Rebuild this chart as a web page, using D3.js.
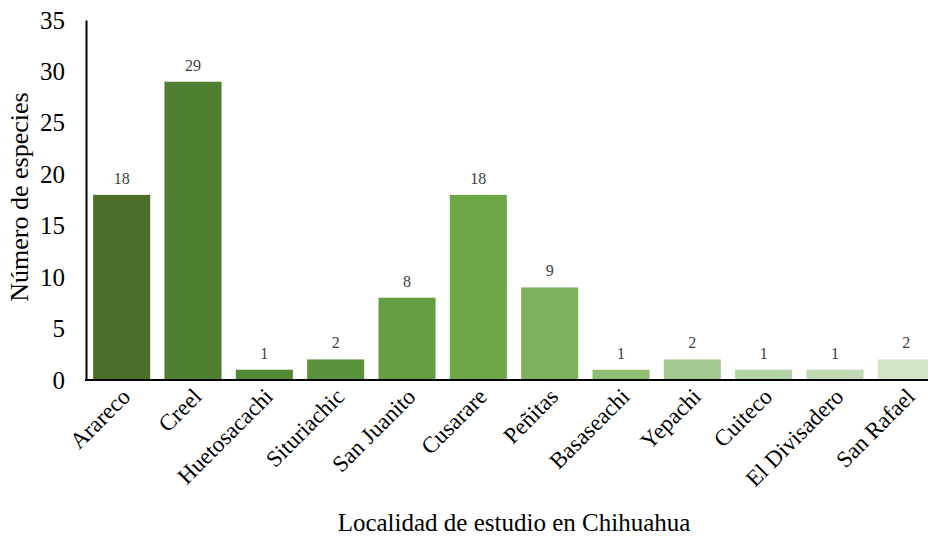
<!DOCTYPE html>
<html>
<head>
<meta charset="utf-8">
<script src="https://cdn.jsdelivr.net/npm/d3@7"></script>
<style>
  body { margin: 0; background: #fff; }
  svg text { font-family: "Liberation Serif", "DejaVu Serif", serif; }
</style>
</head>
<body>
<svg id="chart" width="928" height="538"></svg>
<script>
var localidades = ['Arareco', 'Creel', 'Huetosacachi', 'Situriachic', 'San Juanito', 'Cusarare',
  'Peñitas', 'Basaseachi', 'Yepachi', 'Cuiteco', 'El Divisadero', 'San Rafael'];
var especies = [18, 29, 1, 2, 8, 18, 9, 1, 2, 1, 1, 2];
var colores = ['#4b6f29', '#4f7f31', '#538935', '#59933b', '#639f42', '#6ca946',
  '#7db35c', '#8fbe74', '#a4c993', '#b4d1a6', '#c2d9b6', '#d2e3c6'];
var yTicks = [0, 5, 10, 15, 20, 25, 30, 35];

var serif = '"Liberation Serif", "DejaVu Serif", serif';
var svg = d3.select('#chart');
var mLeft = 86, mRight = 942, mTop = 20, mBottom = 380;

var x = d3.scaleBand()
  .domain(localidades)
  .range([mLeft, mRight])
  .paddingInner(0.2)
  .paddingOuter(0.1);

var y = d3.scaleLinear()
  .domain([0, 35])
  .range([mBottom, mTop]);

var data = localidades.map(function (d, i) { return { name: d, value: especies[i], color: colores[i] }; });

svg.selectAll('rect.bar')
  .data(data)
  .enter().append('rect')
  .attr('class', 'bar')
  .attr('x', function (d) { return x(d.name); })
  .attr('width', x.bandwidth())
  .attr('y', function (d) { return y(d.value); })
  .attr('height', function (d) { return mBottom - y(d.value); })
  .attr('fill', function (d) { return d.color; });

svg.selectAll('text.val')
  .data(data)
  .enter().append('text')
  .attr('class', 'val')
  .attr('x', function (d) { return x(d.name) + x.bandwidth() / 2; })
  .attr('y', function (d) { return y(d.value) - 11; })
  .attr('text-anchor', 'middle')
  .attr('font-family', serif)
  .attr('font-size', 16)
  .attr('fill', '#404040')
  .text(function (d) { return d.value; });

// y axis
var yAxis = svg.append('g')
  .attr('transform', 'translate(' + mLeft + ',0)')
  .call(d3.axisLeft(y).tickValues(yTicks).tickSize(0).tickPadding(21));
yAxis.select('.domain').attr('stroke', '#000').attr('stroke-width', 2);
yAxis.selectAll('text')
  .attr('font-size', 25)
  .attr('fill', '#000')
  .attr('font-family', serif);

// x axis
var xAxis = svg.append('g')
  .attr('transform', 'translate(0,' + mBottom + ')')
  .call(d3.axisBottom(x).tickSize(0).tickPadding(0));
xAxis.select('.domain').remove();
svg.append('line')
  .attr('x1', mLeft - 1).attr('x2', 928)
  .attr('y1', mBottom).attr('y2', mBottom)
  .attr('stroke', '#000').attr('stroke-width', 2);
xAxis.selectAll('text')
  .attr('font-size', 23)
  .attr('fill', '#000')
  .attr('font-family', serif)
  .attr('text-anchor', 'end')
  .attr('dy', 0)
  .attr('transform', 'translate(10,18) rotate(-45)');

// titles
svg.append('text')
  .attr('transform', 'translate(28,' + ((mTop + mBottom) / 2 - 3) + ') rotate(-90)')
  .attr('text-anchor', 'middle')
  .attr('font-family', serif)
  .attr('font-size', 26)
  .text('Número de especies');

svg.append('text')
  .attr('x', 514)
  .attr('y', 531)
  .attr('text-anchor', 'middle')
  .attr('font-family', serif)
  .attr('font-size', 25)
  .text('Localidad de estudio en Chihuahua');
</script>
</body>
</html>
